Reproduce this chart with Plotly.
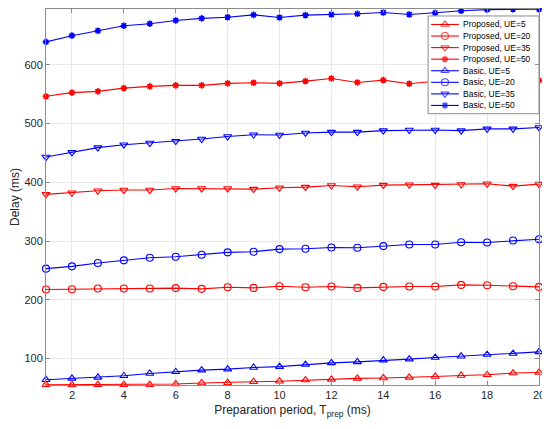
import plotly.graph_objects as go

# preparation period (ms)
t_prep = list(range(1, 21))

# Delay (ms)
proposed_ue5 = [55.5, 55.5, 55.5, 55.5, 55.5, 56.7, 58.4, 58.9, 60.6, 61.5,
                63.4, 64.5, 66.2, 67.0, 67.9, 69.5, 71.2, 72.4, 75.3, 76.3]
proposed_ue20 = [217.6, 218.1, 219.3, 219.3, 219.3, 219.9, 218.7, 221.5, 220.3, 223.2,
                 221.5, 222.6, 220.3, 222.0, 222.6, 222.6, 225.4, 224.8, 223.2, 222.0]
proposed_ue35 = [379.4, 382.2, 385.6, 386.8, 386.8, 389.5, 389.5, 389.5, 388.4, 390.7,
                 391.8, 394.6, 392.4, 395.2, 395.8, 395.2, 396.3, 397.5, 393.5, 396.9]
proposed_ue50 = [546.4, 552.6, 554.8, 560.4, 563.3, 565.0, 565.0, 568.4, 569.5, 568.4,
                 572.3, 576.8, 570.0, 574.0, 567.8, 572.0, 574.0, 573.0, 575.0, 573.4]
basic_ue5 = [64.0, 66.2, 67.9, 70.7, 74.6, 77.5, 80.4, 82.0, 84.8, 86.3,
             89.8, 92.7, 94.4, 97.3, 99.0, 101.7, 104.0, 106.8, 108.5, 111.3]
basic_ue20 = [253.0, 257.0, 262.6, 267.2, 271.7, 273.4, 276.8, 280.7, 281.9, 286.3,
              286.9, 289.0, 288.6, 291.4, 294.2, 294.2, 298.0, 297.6, 301.0, 303.2]
basic_ue35 = [443.0, 451.0, 459.0, 464.0, 466.8, 470.0, 473.6, 478.0, 481.0, 480.5,
              484.0, 485.5, 485.5, 488.0, 489.0, 489.0, 488.0, 491.0, 491.0, 493.4]
basic_ue50 = [639.0, 649.6, 658.0, 666.5, 670.0, 675.5, 679.0, 681.0, 685.0, 680.5,
              684.6, 685.6, 686.8, 689.0, 685.6, 688.5, 692.0, 694.0, 694.8, 694.8]

x_ticks = list(range(2, 21, 2))
y_ticks = [100, 200, 300, 400, 500, 600]

series = [
    ("Proposed, UE=5", proposed_ue5, "red", "triangle-up-open"),
    ("Proposed, UE=20", proposed_ue20, "red", "circle-open"),
    ("Proposed, UE=35", proposed_ue35, "red", "triangle-down-open"),
    ("Proposed, UE=50", proposed_ue50, "red", "asterisk-open"),
    ("Basic, UE=5", basic_ue5, "blue", "triangle-up-open"),
    ("Basic, UE=20", basic_ue20, "blue", "circle-open"),
    ("Basic, UE=35", basic_ue35, "blue", "triangle-down-open"),
    ("Basic, UE=50", basic_ue50, "blue", "asterisk-open"),
]

FONT = "Liberation Sans, Arial, sans-serif"


def marker_style(color, symbol, size=7):
    if "asterisk" in symbol:
        return dict(symbol=symbol, size=size - 1.5, color=color,
                    line=dict(color=color, width=1.6))
    return dict(symbol=symbol, size=size, color=color,
                line=dict(color=color, width=1.1))


fig = go.Figure()
for name, ys, color, symbol in series:
    fig.add_trace(go.Scatter(
        x=t_prep, y=ys, mode="lines+markers", name=name, showlegend=False,
        line=dict(color=color, width=1.1),
        marker=marker_style(color, symbol),
        cliponaxis=False,
    ))

# legend drawn on an overlay axis measured in page pixels (MATLAB-like compact rows)
lg_left, lg_right, lg_top, lg_bottom = 427, 539, 15, 113
row0, row_gap = 23.5, 11.6
fig.add_trace(go.Scatter(
    x=[lg_left, lg_right, lg_right, lg_left, lg_left],
    y=[lg_top, lg_top, lg_bottom, lg_bottom, lg_top],
    mode="lines", fill="toself", fillcolor="white",
    line=dict(color="#8c8c8c", width=1),
    xaxis="x2", yaxis="y2", showlegend=False, hoverinfo="skip",
))
for i, (name, ys, color, symbol) in enumerate(series):
    ry = row0 + i * row_gap
    m = marker_style(color, symbol)
    m["size"] = [0, m["size"], 0]
    fig.add_trace(go.Scatter(
        x=[430, 444, 458], y=[ry, ry, ry], mode="lines+markers",
        line=dict(color=color, width=1.1), marker=m,
        xaxis="x2", yaxis="y2", showlegend=False, hoverinfo="skip",
        cliponaxis=False,
    ))
    fig.add_annotation(x=460, y=ry, xref="x2", yref="y2", text=name,
                       showarrow=False, xanchor="left", yanchor="middle",
                       font=dict(family=FONT, size=8.5, color="#000000"))

axis_style = dict(
    showline=True, linecolor="#8c8c8c", linewidth=1, mirror="ticks",
    ticks="inside", ticklen=4, tickcolor="#8c8c8c",
    showgrid=True, gridcolor="#e8e8e8", gridwidth=1, zeroline=False,
    tickfont=dict(family=FONT, size=11, color="#262626"),
    ticklabeloverflow="allow",
)
title_font = dict(family=FONT, size=12, color="#262626")

fig.update_layout(
    xaxis=dict(range=[1, 20], tickvals=x_ticks,
               title=dict(text="Preparation period, T<sub>prep</sub> (ms)",
                          font=title_font, standoff=5),
               **axis_style),
    yaxis=dict(range=[55, 695], tickvals=y_ticks,
               title=dict(text="Delay (ms)", font=title_font, standoff=8),
               **axis_style),
    xaxis2=dict(range=[41, 539], overlaying="x", visible=False, fixedrange=True),
    yaxis2=dict(range=[385, 8], overlaying="y", visible=False, fixedrange=True),
    # the page body adds an 8px margin, so the figure is 8px smaller
    width=542, height=421,
    margin=dict(l=33, r=11, t=0, b=44),
    plot_bgcolor="white", paper_bgcolor="white",
    font=dict(family=FONT, color="#262626"),
)

fig.write_html("out.html")
